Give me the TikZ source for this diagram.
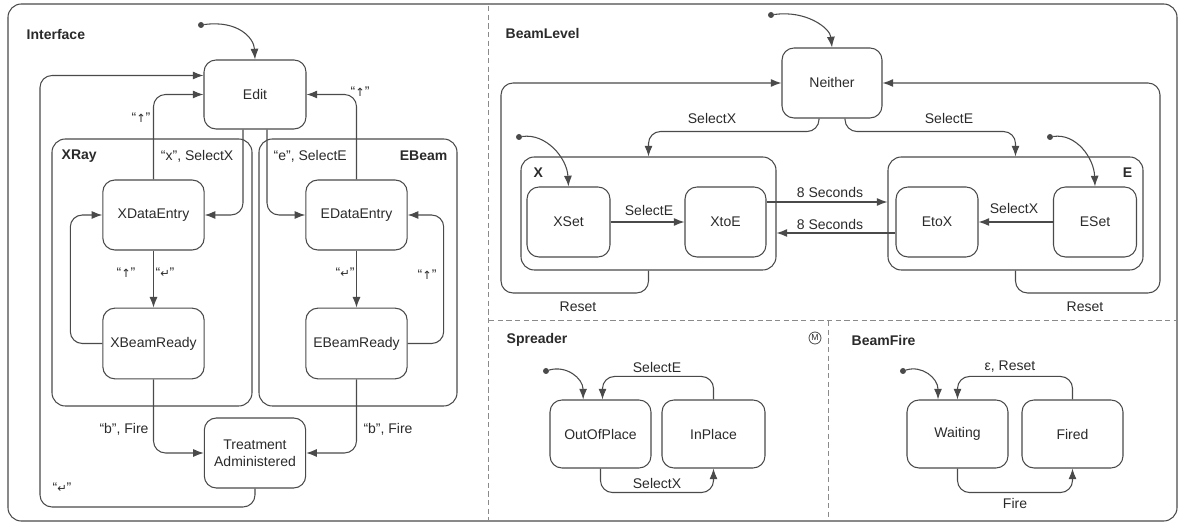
\documentclass[tikz,border=0pt]{standalone}
\usepackage{fontspec}
\setmainfont{Liberation Sans}
\newfontfamily\symf{DejaVu Sans}
\usetikzlibrary{arrows.meta,calc}
\definecolor{ln}{HTML}{4A4A4A}
\definecolor{tx}{HTML}{2A2A2A}
\definecolor{sep}{HTML}{8A8A8A}
\begin{document}
\begin{tikzpicture}[x=0.75pt,y=-0.75pt,
  every node/.style={text=tx, font=\fontsize{10.5}{12.6}\selectfont},
  state/.style={draw=ln, line width=0.8pt, rounded corners=9pt, minimum width=76pt, minimum height=52.5pt, inner sep=0pt, align=center},
  box/.style={draw=ln, line width=0.8pt, rounded corners=10pt, inner sep=0pt},
  ttl/.style={font=\bfseries\fontsize{10.5}{12.6}\selectfont},
  tr/.style={draw=ln, line width=0.8pt, rounded corners=9pt, -{Latex[length=8pt,width=6pt]}},
  init/.style={circle, fill=ln, inner sep=0pt, minimum size=4.5pt},
  sym/.style={font=\symf\fontsize{8.5}{9}\selectfont},
  sepline/.style={draw=sep, line width=0.7pt, dash pattern=on 4pt off 2.5pt}
]
\useasboundingbox (0,0) rectangle (1179,523);
% outer frame
\draw[draw=ln, line width=0.8pt, rounded corners=10pt] (8,4) rectangle (1177,521);
% separators
\draw[sepline] (488,6) -- (488,520);
\draw[sepline] (489,320) -- (1176,320);
\draw[sepline] (828,321) -- (828,520);

% ================= Interface =================
\node[ttl, anchor=west] (tInterface) at (22,35) {Interface};
\node[box, minimum width=150pt, minimum height=200.25pt] (xray) at (152,272.5) {};
\node[box, minimum width=148.5pt, minimum height=200.25pt] (ebeam) at (358,272.5) {};
\node[ttl, anchor=west] (tXRay) at (57,156) {XRay};
\node[ttl, anchor=east] (tEBeam) at (452,156) {EBeam};

\node[state, minimum width=76.5pt, minimum height=51.75pt] (edit) at (255,94.5) {Edit};
\node[state] (xde) at (153.5,215) {XDataEntry};
\node[state] (ede) at (356.5,215) {EDataEntry};
\node[state, minimum height=53pt] (xbr) at (153.5,343.5) {XBeamReady};
\node[state, minimum height=53pt] (ebr) at (356.5,343.5) {EBeamReady};
\node[state] (treat) at (255,453) {Treatment\\Administered};

\node[init] (i1) at (201,25) {};
\draw[tr] (i1) .. controls (238,20) and (254,38) .. (edit.north);

\draw[tr] (treat.south) |- (40,507) |- ([yshift=14.25pt]edit.west);
\node (l1) at (62,488) {“{\symf\fontsize{8.5}{9}\selectfont ↵}”};

\draw[tr] (xde.north) |- (edit.west);
\node (l2) at (141,118) {“{\symf\fontsize{8.5}{9}\selectfont ↑}”};
\draw[tr] ([xshift=-9pt]edit.south) |- (xde.east);
\node[anchor=east] (l3) at (238,156) {“x”, SelectX};
\draw[tr] ([xshift=9pt]edit.south) |- (ede.west);
\node[anchor=west] (l4) at (269,156) {“e”, SelectE};
\draw[tr] (ede.north) |- (edit.east);
\node (l5) at (360,92) {“{\symf\fontsize{8.5}{9}\selectfont ↑}”};

\draw[tr] (xde.south) -- (xbr.north);
\node (l6) at (165,273) {“{\symf\fontsize{8.5}{9}\selectfont ↵}”};
\draw[tr] (xbr.west) -- ++(-32,0) |- (xde.west);
\node (l7) at (126,273) {“{\symf\fontsize{8.5}{9}\selectfont ↑}”};
\draw[tr] (ede.south) -- (ebr.north);
\node (l8) at (345,273) {“{\symf\fontsize{8.5}{9}\selectfont ↵}”};
\draw[tr] (ebr.east) -- ++(36,0) |- (ede.east);
\node (l9) at (427,275) {“{\symf\fontsize{8.5}{9}\selectfont ↑}”};

\draw[tr] (xbr.south) |- (treat.west);
\node (l10) at (124,429) {“b”, Fire};
\draw[tr] (ebr.south) |- (treat.east);
\node (l11) at (388,429) {“b”, Fire};

% ================= BeamLevel =================
\node[ttl, anchor=west] (tBeamLevel) at (501,34) {BeamLevel};
\node[state, minimum width=75pt] (nei) at (832,83) {Neither};
\node[box, minimum width=191.25pt, minimum height=84.75pt] (xbox) at (648.5,213.5) {};
\node[box, minimum width=191.25pt, minimum height=84.75pt] (ebox) at (1015.5,213.5) {};
\node[ttl, anchor=west] (tX) at (529,173) {X};
\node[ttl, anchor=east] (tE) at (1137,173) {E};
\node[state, minimum width=62.25pt] (xset) at (568.5,222) {XSet};
\node[state, minimum width=60.75pt] (xtoe) at (725.5,222) {XtoE};
\node[state, minimum width=61.5pt] (etox) at (937,222) {EtoX};
\node[state, minimum width=62.25pt] (eset) at (1095,222) {ESet};

\node[init] (i2) at (771,15) {};
\draw[tr] (i2) .. controls (806,10) and (830,28) .. (nei.north);
\node[init] (i3) at (519,137) {};
\draw[tr] (i3) .. controls (546,133) and (567,158) .. (xset.north);
\node[init] (i4) at (1050,137) {};
\draw[tr] (i4) .. controls (1076,133) and (1094,158) .. (eset.north);

\draw[tr] ([xshift=-9.75pt]nei.south) -- ++(0,13) -| (xbox.north);
\node (m1) at (712,119) {SelectX};
\draw[tr] ([xshift=9.75pt]nei.south) -- ++(0,13) -| (ebox.north);
\node (m2) at (949,119) {SelectE};

\draw[tr] (xset.east) -- (xtoe.west);
\node (m3) at (649,211) {SelectE};
\draw[tr] (eset.west) -- (etox.east);
\node (m4) at (1014,209) {SelectX};

\coordinate (a1) at ([yshift=15pt]xtoe.east);
\draw[tr] (a1) -- (a1 -| ebox.west);
\node (m5) at (830,193) {8 Seconds};
\coordinate (a2) at ([yshift=-8.25pt]etox.west);
\draw[tr] (a2) -- (a2 -| xbox.east);
\node (m6) at (830,225) {8 Seconds};

\draw[tr] (xbox.south) |- (501,293) |- (nei.west);
\node (m7) at (578,307) {Reset};
\draw[tr] (ebox.south) |- (1160,293) |- (nei.east);
\node (m8) at (1085,307) {Reset};

% ================= Spreader =================
\node[ttl, anchor=west] (tSpreader) at (502,340) {Spreader};
\node[circle, draw=ln, line width=0.6pt, inner sep=0.6pt, minimum size=9pt, font=\fontsize{6.5}{7}\selectfont] (mm) at (815,338) {M};
\node[state, minimum width=75.75pt, minimum height=51pt] (oop) at (600.5,434) {OutOfPlace};
\node[state, minimum width=77.25pt, minimum height=51pt] (inp) at (713.5,434) {InPlace};
\node[init] (i5) at (546,371) {};
\draw[tr] (i5) .. controls (566,365) and (583,378) .. ([xshift=-13pt]oop.north);
\draw[tr] (inp.north) -- ++(0,-23) -| ([xshift=1.5pt]oop.north);
\node (s1) at (657,367) {SelectE};
\draw[tr] (oop.south) -- ++(0,24) -| (inp.south);
\node (s2) at (657,483) {SelectX};

% ================= BeamFire =================
\node[ttl, anchor=west] (tBeamFire) at (847,340) {BeamFire};
\node[state, minimum width=75.75pt, minimum height=51pt] (wait) at (957.5,434) {Waiting};
\node[state, minimum width=75.75pt, minimum height=51pt] (fired) at (1072.5,434) {Fired};
\node[init] (i6) at (903,371) {};
\draw[tr] (i6) .. controls (922,365) and (938,378) .. ([xshift=-14.6pt]wait.north);
\draw[tr] (fired.north) -- ++(0,-23) -| (wait.north);
\node (b1) at (1010,367) {ε, Reset};
\draw[tr] (wait.south) -- ++(0,24) -| (fired.south);
\node (b2) at (1015,503) {Fire};
\end{tikzpicture}
\end{document}
